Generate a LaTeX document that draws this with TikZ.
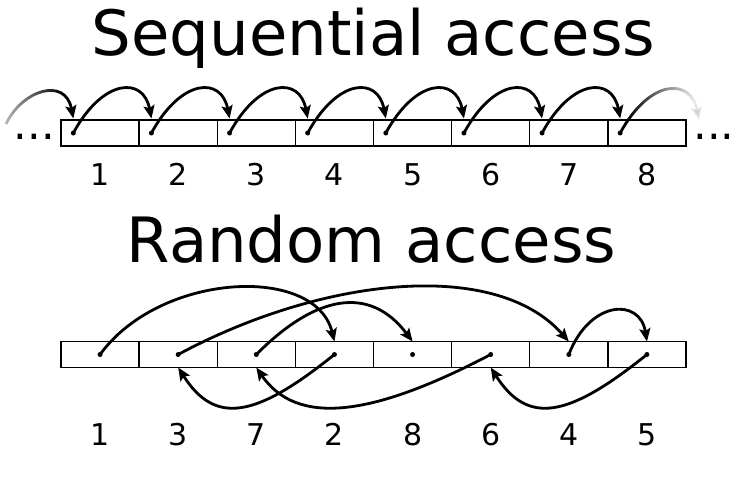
\documentclass[tikz,border=0pt]{standalone}
\usepackage{fontspec}
\setmainfont{DejaVu Sans}
\usetikzlibrary{arrows.meta,fadings}
\pgfdeclarehorizontalshading{fadeinsh}{100bp}{color(0bp)=(pgftransparent!100); color(10bp)=(pgftransparent!100); color(65bp)=(pgftransparent!0); color(100bp)=(pgftransparent!0)}
\pgfdeclarefading{fadein}{\pgfuseshading{fadeinsh}}
\pgfdeclarehorizontalshading{fadeoutsh}{100bp}{color(0bp)=(pgftransparent!0); color(30bp)=(pgftransparent!0); color(70bp)=(pgftransparent!90); color(100bp)=(pgftransparent!100)}
\pgfdeclarefading{fadeout}{\pgfuseshading{fadeoutsh}}
\tikzset{
  cell/.style={draw, line width=1.4pt, minimum width=78.125pt, minimum height=26pt, inner sep=0pt, outer sep=0pt},
  dotnode/.style={circle, fill=black, minimum size=5pt, inner sep=0pt},
  arr/.style={line width=2.8pt, -{Stealth[length=13pt,width=11pt,inset=2.5pt]}},
  title/.style={anchor=base, font=\fontsize{62.5}{75}\selectfont},
  lbl/.style={anchor=base, font=\fontsize{30}{36}\selectfont},
  ell/.style={anchor=base, font=\fontsize{43}{50}\selectfont, inner sep=0pt}
}
\begin{document}
\begin{tikzpicture}[x=1pt,y=-1pt]
\useasboundingbox (0,0) rectangle (739,483);
% titles
\node[title] (tseq) at (373.5,55) {Sequential access};
\node[title] (trand) at (371.5,262) {Random access};
% sequential row
\foreach \i in {1,...,8} {
  \node[cell] (t\i) at ({61+78.125*(\i-0.5)},133) {};
  \node[dotnode] (td\i) at ({61+78.125*(\i-1)+12.3},133) {};
  \coordinate (ta\i) at ({61+78.125*(\i-1)+12.3},118.5);
  \node[lbl] (tl\i) at ({61+78.125*(\i-0.5)},185) {\i};
}
\foreach \i [evaluate=\i as \j using int(\i+1)] in {1,...,7} {
  \draw[arr] (td\i.center) .. controls +(30,-55) and +(-8,-42) .. (ta\j);
}
\coordinate (tin) at (6,124);
\coordinate (tout) at (699,120);
\draw[arr, path fading=fadein] (tin) .. controls +(16,-34) and +(-8,-42) .. (ta1);
\draw[arr, path fading=fadeout] (td8.center) .. controls +(30,-55) and +(-8,-42) .. (tout);
\node[ell] (dl) at (34.3,139.5) {...};
\node[ell] (dr) at (714,139.5) {...};
% random row
\foreach \i/\v in {1/1,2/3,3/7,4/2,5/8,6/6,7/4,8/5} {
  \node[cell] (r\i) at ({61+78.125*(\i-0.5)},354.5) {};
  \node[dotnode] (rd\i) at ({61+78.125*(\i-0.5)},354.5) {};
  \coordinate (rt\i) at ({61+78.125*(\i-0.5)},341.5);
  \coordinate (rb\i) at ({61+78.125*(\i-0.5)},367.5);
  \node[lbl] (rl\i) at ({61+78.125*(\i-0.5)},445) {\v};
}
% 1 -> 2
\draw[arr] (rd1.center) .. controls +(60,-82.5) and +(-19,-77) .. (rt4);
% 2 -> 3
\draw[arr] (rd4.center) .. controls +(-79,63.5) and +(37,58) .. (rb2);
% 3 -> 4
\draw[arr] (rd2.center) .. controls +(142,-76.5) and +(-74,-84) .. (rt7);
% 4 -> 5
\draw[arr] (rd7.center) .. controls +(21,-54.5) and +(-7,-44) .. (rt8);
% 5 -> 6
\draw[arr] (rd8.center) .. controls +(-79,63.5) and +(37,58) .. (rb6);
% 6 -> 7
\draw[arr] (rd6.center) .. controls +(-121,63.5) and +(40,58) .. (rb3);
% 7 -> 8
\draw[arr] (rd3.center) .. controls +(59,-59.5) and +(-43,-57) .. (rt5);
\end{tikzpicture}
\end{document}
